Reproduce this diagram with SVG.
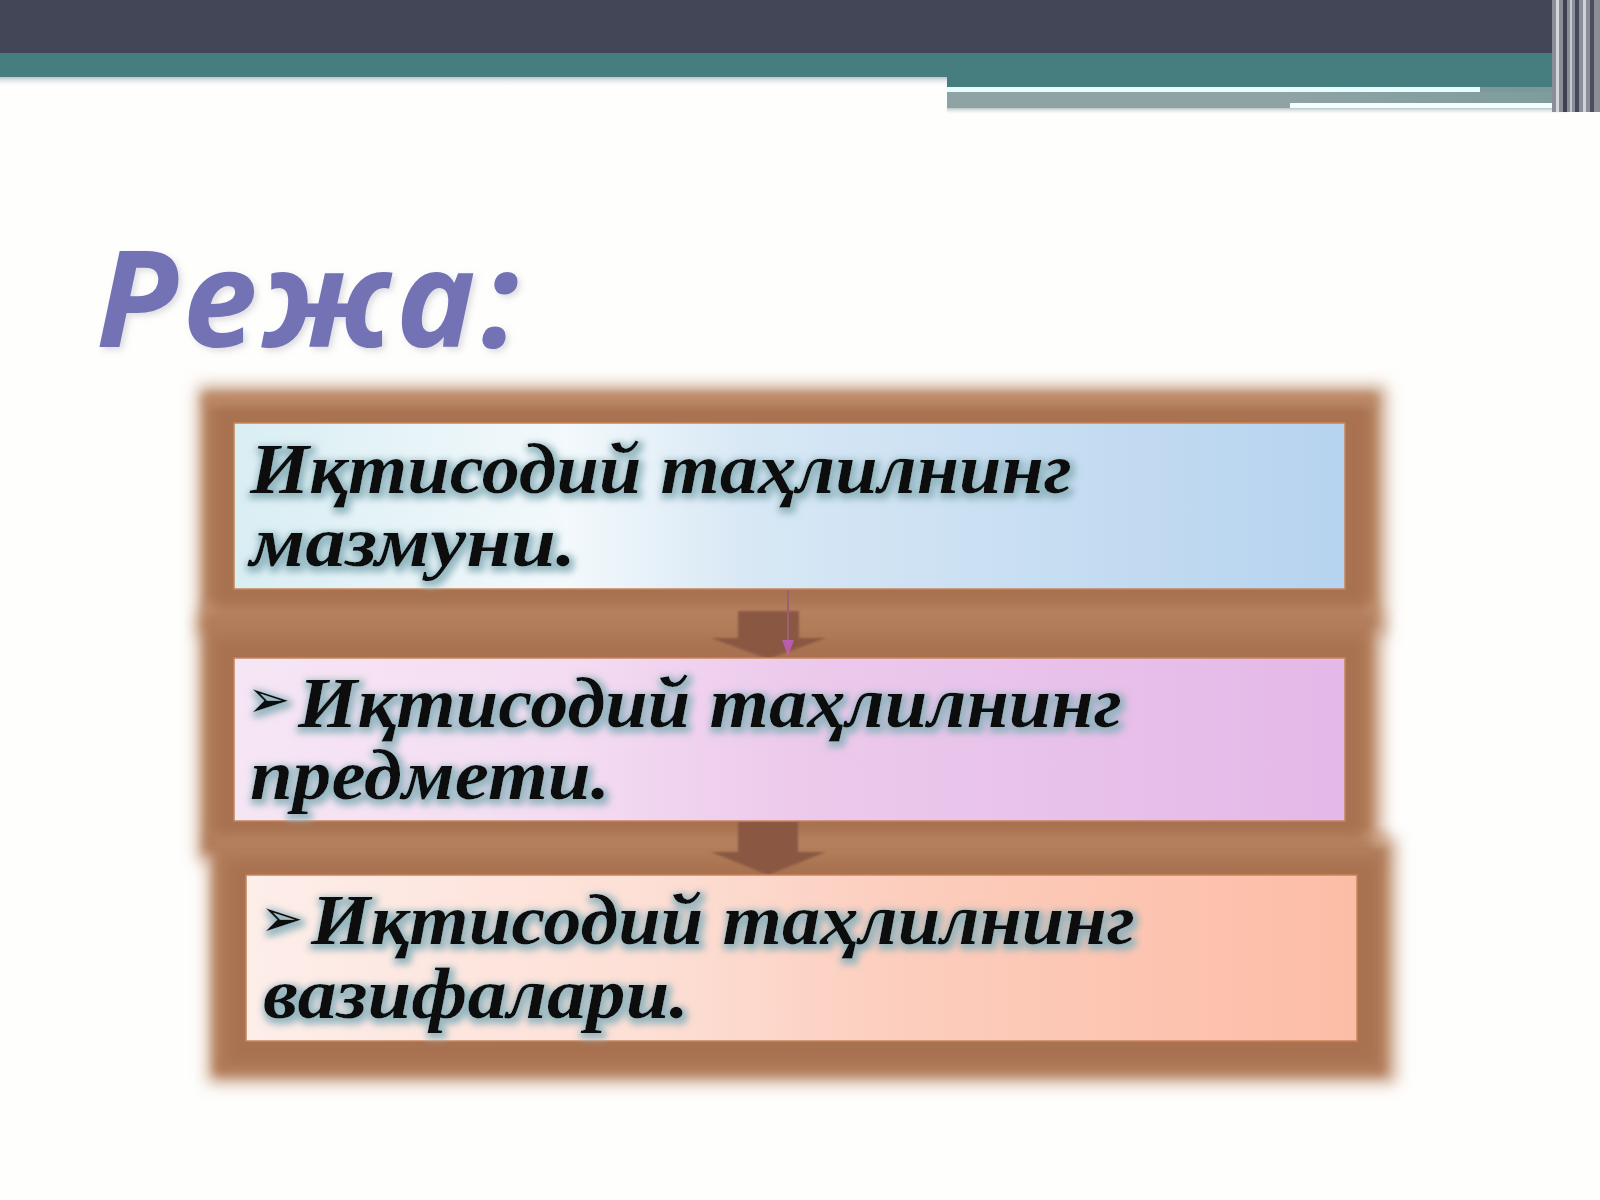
<svg xmlns="http://www.w3.org/2000/svg" width="1600" height="1200" viewBox="0 0 1600 1200">
<style>
.txt{font-family:"Liberation Serif","DejaVu Serif",serif;font-weight:bold;font-style:italic;font-size:71px;fill:#0a0a0a;}
.bul{font-family:"DejaVu Sans",sans-serif;font-size:52px;font-weight:normal;font-style:normal;fill:#111;}
.title{font-family:"Open Sans","Noto Sans",sans-serif;font-weight:bold;font-style:italic;font-size:134px;fill:#7272b4;letter-spacing:5px;}
.frame{fill:#b07a59;}
.halo{fill:#c9a387;}
.box{stroke:#c98458;stroke-width:1.5;}
.arrow{fill:#8a5843;}
</style>
<defs>
<filter id="blur" x="-5%" y="-10%" width="110%" height="120%"><feGaussianBlur stdDeviation="5"/></filter>
<filter id="bigblur" x="-5%" y="-10%" width="110%" height="120%"><feGaussianBlur stdDeviation="8"/></filter>
<filter id="sblur" x="-5%" y="-10%" width="110%" height="120%"><feGaussianBlur stdDeviation="1.2"/></filter>
<filter id="glow" x="-5%" y="-20%" width="110%" height="140%">
<feMorphology in="SourceAlpha" operator="dilate" radius="3" result="d"/>
<feGaussianBlur in="d" stdDeviation="3.5" result="b"/>
<feOffset in="b" dx="2" dy="3" result="o"/>
<feFlood flood-color="#8db2bc" flood-opacity="0.9"/>
<feComposite in2="o" operator="in" result="g"/>
<feMerge><feMergeNode in="g"/><feMergeNode in="SourceGraphic"/></feMerge>
</filter>
<filter id="tshadow" x="-5%" y="-20%" width="110%" height="140%">
<feGaussianBlur in="SourceAlpha" stdDeviation="3" result="b"/>
<feOffset in="b" dx="3" dy="3" result="o"/>
<feFlood flood-color="#9090a0" flood-opacity="0.3"/>
<feComposite in2="o" operator="in" result="g"/>
<feMerge><feMergeNode in="g"/><feMergeNode in="SourceGraphic"/></feMerge>
</filter>
<linearGradient id="g1" x1="0" y1="0" x2="1" y2="0">
<stop offset="0" stop-color="#d9eef3"/><stop offset="0.3" stop-color="#f3f9fc"/><stop offset="0.46" stop-color="#d8e8f5"/><stop offset="1" stop-color="#b6d3ef"/>
</linearGradient>
<linearGradient id="g2" x1="0" y1="0" x2="1" y2="0">
<stop offset="0" stop-color="#f6e6f4"/><stop offset="0.3" stop-color="#f4dcf2"/><stop offset="0.5" stop-color="#eccaec"/><stop offset="1" stop-color="#e4b8e8"/>
</linearGradient>
<linearGradient id="g3" x1="0" y1="0" x2="1" y2="0">
<stop offset="0" stop-color="#fdeeea"/><stop offset="0.35" stop-color="#fde0d6"/><stop offset="0.6" stop-color="#fccdbd"/><stop offset="1" stop-color="#fcbda6"/>
</linearGradient>
<linearGradient id="shade" x1="0" y1="0" x2="0" y2="1">
<stop offset="0" stop-color="#b8c4c4"/><stop offset="1" stop-color="#ffffff" stop-opacity="0"/>
</linearGradient>
<linearGradient id="tealfade" x1="0" y1="0" x2="1" y2="0">
<stop offset="0" stop-color="#8fa2a4"/><stop offset="1" stop-color="#7f9c9c"/>
</linearGradient>
<linearGradient id="band" x1="0" y1="0" x2="0" y2="1">
<stop offset="0" stop-color="#c89878" stop-opacity="0"/><stop offset="0.5" stop-color="#c89878" stop-opacity="0.7"/><stop offset="1" stop-color="#c89878" stop-opacity="0"/>
</linearGradient>
</defs>

<rect width="1600" height="1200" fill="#fefefd"/>

<g id="header">
<rect x="0" y="0" width="1600" height="53" fill="#434656"/>
<rect x="0" y="53" width="947" height="24" fill="#467e80"/>
<rect x="0" y="77" width="947" height="10" fill="url(#shade)"/>
<rect x="947" y="53" width="605" height="34" fill="#467e80"/>
<rect x="947" y="87" width="533" height="5" fill="#e6fdff"/>
<rect x="947" y="92" width="343" height="16" fill="#8fa2a4"/>
<rect x="1290" y="92" width="262" height="11" fill="url(#tealfade)"/>
<rect x="1480" y="87" width="72" height="5" fill="#7a9a9a"/>
<rect x="1290" y="103" width="280" height="6" fill="#f2feff"/>
<rect x="947" y="108" width="620" height="7" fill="url(#shade)"/>
<rect x="1552" y="0" width="48" height="112" fill="#8a8e98"/>
<rect x="1556" y="0" width="3" height="112" fill="#d4d6dc"/>
<rect x="1563" y="0" width="4" height="112" fill="#3e4252"/>
<rect x="1570" y="0" width="2" height="112" fill="#c6c8d0"/>
<rect x="1575" y="0" width="4" height="112" fill="#454858"/>
<rect x="1583" y="0" width="3" height="112" fill="#d0d2d8"/>
<rect x="1590" y="0" width="4" height="112" fill="#4a4d5c"/>
</g>

<g id="title">
<text class="title" x="96" y="347" filter="url(#tshadow)">Режа:</text>
</g>

<g id="frames">
<rect class="halo" x="198" y="386" width="1188" height="250" filter="url(#bigblur)"/>
<rect class="halo" x="198" y="613" width="1184" height="248" filter="url(#bigblur)"/>
<rect class="halo" x="208" y="838" width="1188" height="245" filter="url(#bigblur)"/>
<rect class="frame" x="204" y="394" width="1172" height="234" filter="url(#blur)"/>
<rect class="frame" x="204" y="621" width="1168" height="232" filter="url(#blur)"/>
<rect class="frame" x="214" y="846" width="1172" height="229" filter="url(#blur)"/>
<rect x="204" y="393" width="1172" height="16" fill="url(#band)" filter="url(#blur)"/>
<rect x="204" y="598" width="1172" height="22" fill="url(#band)" filter="url(#blur)"/>
<rect x="214" y="828" width="1172" height="18" fill="url(#band)" filter="url(#blur)"/>
<rect x="216" y="408" width="1150" height="204" fill="#a26a4a" opacity="0.5" filter="url(#blur)"/>
<rect x="216" y="640" width="1146" height="200" fill="#a26a4a" opacity="0.5" filter="url(#blur)"/>
<rect x="228" y="862" width="1148" height="200" fill="#a26a4a" opacity="0.5" filter="url(#blur)"/>
</g>

<g id="connectors">
<g filter="url(#sblur)">
<polygon class="arrow" points="738,611 799,611 799,638 826,638 768,659 711,638 738,638"/>
<polygon class="arrow" points="738,821 798,821 798,852 826,852 768,875 711,852 738,852"/>
</g>
<line x1="788" y1="590" x2="788" y2="645" stroke="#9a6070" stroke-width="2"/>
<polygon points="782,640 794,640 788,656" fill="#c060c8" opacity="0.8"/>
</g>

<g id="node1">
<rect class="box" x="234" y="423" width="1111" height="166" fill="url(#g1)"/>
<g filter="url(#glow)">
<text class="txt" x="250" y="493" textLength="822" lengthAdjust="spacingAndGlyphs">Иқтисодий таҳлилнинг</text>
<text class="txt" x="250" y="566" textLength="326" lengthAdjust="spacingAndGlyphs">мазмуни.</text>
</g>
</g>

<g id="node2">
<rect class="box" x="234" y="658" width="1111" height="163" fill="url(#g2)"/>
<g filter="url(#glow)">
<text class="txt" y="727"><tspan class="bul" x="247" dy="-10">➢</tspan><tspan x="298" dy="10" textLength="824" lengthAdjust="spacingAndGlyphs">Иқтисодий таҳлилнинг</tspan></text>
<text class="txt" x="250" y="799" textLength="360" lengthAdjust="spacingAndGlyphs">предмети.</text>
</g>
</g>

<g id="node3">
<rect class="box" x="246" y="875" width="1111" height="166" fill="url(#g3)"/>
<g filter="url(#glow)">
<text class="txt" y="944"><tspan class="bul" x="260" dy="-8">➢</tspan><tspan x="311" dy="8" textLength="824" lengthAdjust="spacingAndGlyphs">Иқтисодий таҳлилнинг</tspan></text>
<text class="txt" x="263" y="1018" textLength="426" lengthAdjust="spacingAndGlyphs">вазифалари.</text>
</g>
</g>
</svg>
